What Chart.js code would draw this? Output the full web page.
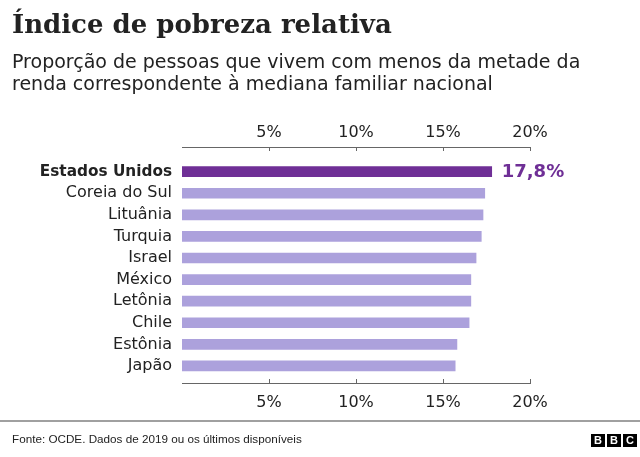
<!DOCTYPE html>
<html>
<head>
<meta charset="utf-8">
<script src="https://cdn.jsdelivr.net/npm/chart.js@4"></script>
<style>
  html, body { margin:0; padding:0; background:#fff; }
  #wrap { position:relative; width:640px; height:457px; overflow:hidden; font-family:"DejaVu Sans", sans-serif; color:#222; }
  #c { position:absolute; left:0; top:0; }
  #title { position:absolute; left:12px; top:9px; font-family:"DejaVu Serif", serif; font-weight:bold; font-size:26px; color:#222; white-space:nowrap; }
  #sub { position:absolute; left:12px; top:50px; font-size:19px; line-height:22px; color:#222; white-space:nowrap; }
  #rule { position:absolute; left:0; top:420px; width:640px; height:2px; background:#a0a0a0; }
  #foot { position:absolute; left:12px; top:432px; font-family:"Liberation Sans", Arial, sans-serif; font-size:11.7px; color:#222; }
  #bbc { position:absolute; left:591px; top:434px; display:flex; gap:2px; }
  #bbc span { width:14px; height:13px; background:#000; color:#fff; font:bold 11px "Liberation Sans", Arial, sans-serif; line-height:13px; text-align:center; display:block; }
</style>
</head>
<body>
<div id="wrap">
  <canvas id="c" width="640" height="457"></canvas>
  <div id="title">Índice de pobreza relativa</div>
  <div id="sub">Proporção de pessoas que vivem com menos da metade da<br>renda correspondente à mediana familiar nacional</div>
  <div id="rule"></div>
  <div id="foot">Fonte: OCDE. Dados de 2019 ou os últimos disponíveis</div>
  <div id="bbc"><span>B</span><span>B</span><span>C</span></div>
</div>
<script>
const categories = ["Estados Unidos","Coreia do Sul","Lituânia","Turquia","Israel","México","Letônia","Chile","Estônia","Japão"];
const values = [17.8, 17.4, 17.3, 17.2, 16.9, 16.6, 16.6, 16.5, 15.8, 15.7];
const xTicks = [0, 5, 10, 15, 20];

const HIGHLIGHT = '#6f2f96';
const OTHER = '#aca1dc';
const AXIS = '#666';
const FONT = '"DejaVu Sans", sans-serif';
const Y_MIN = -1.14, Y_MAX = 9.79;

const innerTicks = {
  id: 'innerTicks',
  afterDraw(chart) {
    const ctx = chart.ctx;
    const a = chart.chartArea;
    ctx.save();
    ctx.strokeStyle = AXIS;
    ctx.lineWidth = 1;
    ['x','x2'].forEach(id => {
      const s = chart.scales[id];
      s.ticks.forEach(t => {
        if (t.value === 0) return;
        const px = Math.round(s.getPixelForValue(t.value)) + 0.5;
        ctx.beginPath();
        if (id === 'x') { ctx.moveTo(px, a.top); ctx.lineTo(px, a.top + 4); }
        else { ctx.moveTo(px, a.bottom); ctx.lineTo(px, a.bottom - 4); }
        ctx.stroke();
      });
    });
    ctx.restore();
  }
};

const valueLabel = {
  id: 'valueLabel',
  afterDatasetsDraw(chart) {
    const bar = chart.getDatasetMeta(0).data[0];
    const ctx = chart.ctx;
    ctx.save();
    ctx.fillStyle = HIGHLIGHT;
    ctx.font = 'bold 18px ' + FONT;
    ctx.textAlign = 'left';
    ctx.textBaseline = 'middle';
    ctx.fillText(values[0].toFixed(1).replace('.', ',') + '%', bar.x + 10, bar.y + 1);
    ctx.restore();
  }
};

const xAxisBase = {
  type: 'linear', min: 0, max: 20,
  afterBuildTicks: s => { s.ticks = xTicks.map(v => ({ value: v })); },
  grid: { display: false, drawTicks: false },
  border: { display: true, color: AXIS, width: 1 },
  ticks: {
    color: '#222',
    font: { family: FONT, size: 16 },
    callback: v => v === 0 ? '' : v + '%'
  }
};

new Chart(document.getElementById('c'), {
  type: 'bar',
  data: {
    datasets: [{
      data: values.map((v, i) => ({ x: v, y: i })),
      backgroundColor: values.map((v, i) => i === 0 ? HIGHLIGHT : OTHER),
      barThickness: 10,
      borderWidth: 0
    }]
  },
  options: {
    indexAxis: 'y',
    responsive: false,
    animation: false,
    events: [],
    layout: { padding: { left: 0, right: 110, top: 117, bottom: 44 } },
    plugins: { legend: { display: false }, tooltip: { enabled: false } },
    scales: {
      x: Object.assign({}, xAxisBase, {
        position: 'top',
        afterFit: s => { s.height = 30; },
        ticks: Object.assign({}, xAxisBase.ticks, { padding: 5 })
      }),
      x2: Object.assign({}, xAxisBase, {
        position: 'bottom',
        afterFit: s => { s.height = 30; },
        ticks: Object.assign({}, xAxisBase.ticks, { padding: 10 })
      }),
      y: {
        type: 'linear', reverse: true, min: Y_MIN, max: Y_MAX, bounds: 'data', offset: false,
        afterBuildTicks: s => { s.ticks = categories.map((c, i) => ({ value: i })); s.min = Y_MIN; s.max = Y_MAX; },
        afterFit: s => { s.width = 182; },
        grid: { display: false, drawTicks: false, offset: false },
        border: { display: false },
        ticks: {
          color: '#222',
          padding: 10,
          autoSkip: false,
          font: ctx => ({ family: FONT, size: ctx.index === 0 ? 15.3 : 16, weight: ctx.index === 0 ? 'bold' : 'normal' }),
          callback: v => categories[v]
        }
      }
    }
  },
  plugins: [innerTicks, valueLabel]
});
</script>
</body>
</html>
